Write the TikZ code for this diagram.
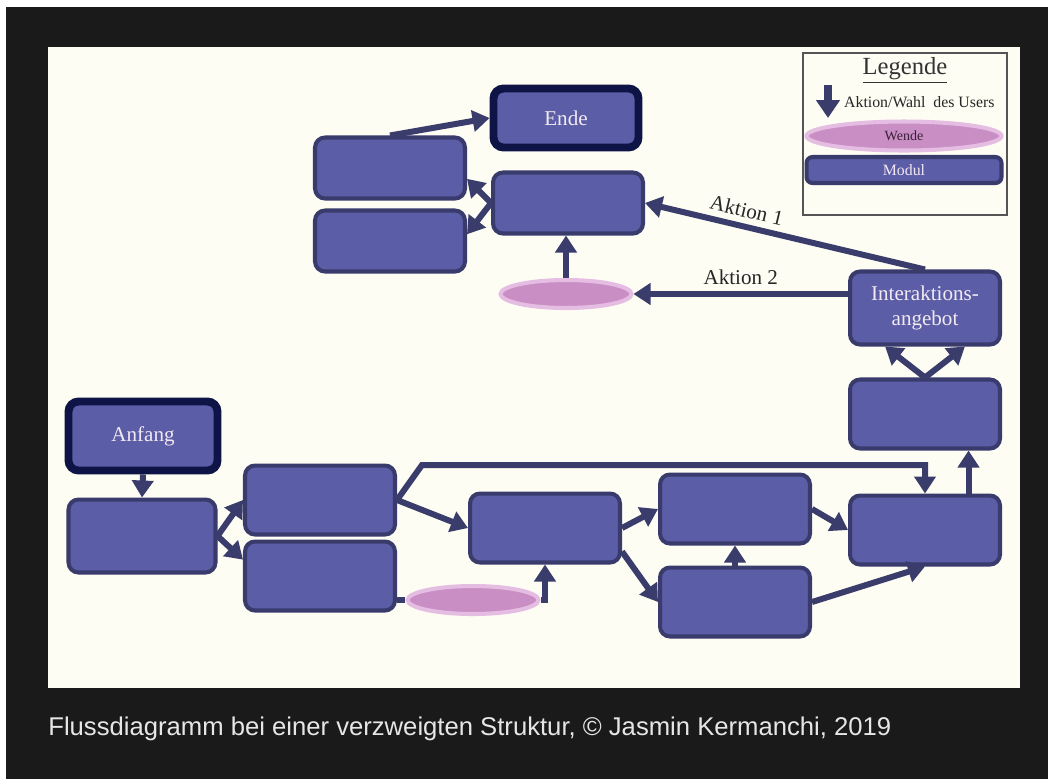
\documentclass[tikz,border=0pt]{standalone}
\usepackage{fontspec}
\setmainfont{Liberation Serif}
\newfontfamily\capfont{Liberation Sans}
\usetikzlibrary{arrows.meta,shapes.geometric}
\definecolor{modfill}{HTML}{5B5EA6}
\definecolor{modline}{HTML}{383B6C}
\definecolor{arrcol}{HTML}{3A3C6B}
\definecolor{navy}{HTML}{0E1446}
\definecolor{wendefill}{HTML}{C98FC4}
\definecolor{wendehalo}{HTML}{E6BDE2}
\definecolor{wendetext}{HTML}{3A1F3A}
\definecolor{paper}{HTML}{FDFDF3}
\definecolor{frame}{HTML}{1A1A1A}
\definecolor{modtext}{HTML}{F3E9F2}
\definecolor{captext}{HTML}{E6E6E6}
\definecolor{legline}{HTML}{555555}
\begin{document}
\begin{tikzpicture}[x=0.02cm,y=-0.02cm,
  modul/.style={draw=modline,line width=2.3pt,fill=modfill,rounded corners=0.2cm,
    minimum width=3cm,minimum height=1.38cm,text=modtext,align=center,inner sep=2pt,
    font=\fontsize{12}{14}\selectfont},
  endmodul/.style={modul,draw=navy,line width=4.5pt},
  wende/.style={ellipse,draw=wendehalo,line width=2.3pt,fill=wendefill,
    minimum width=2.62cm,minimum height=0.56cm,inner sep=0pt},
  arr/.style={draw=arrcol,line width=0.12cm,-{Triangle[width=0.42cm,length=0.34cm]}},
  verbindung/.style={draw=arrcol,line width=0.12cm},
  aktion/.style={text=black!85,font=\fontsize{12}{14}\selectfont}]
  \useasboundingbox (0,0) rectangle (1048,779);
  \fill[white] (0,0) rectangle (1048,779);
  \fill[frame] (6,7) rectangle (1048,779);
  \fill[paper] (48,47) rectangle (1020,688);

  % oben
  \node[endmodul,minimum width=2.9cm,minimum height=1.18cm] (ende) at (566,118) {Ende};
  \node[modul,minimum height=1.22cm] (oben1) at (390,168) {};
  \node[modul,minimum height=1.22cm] (oben2) at (390,241) {};
  \node[modul,minimum height=1.22cm] (mitte) at (568,203) {};
  \node[wende] (wende1) at (566,294) {};
  \node[modul,minimum height=1.46cm] (angebot) at (925,308) {Interaktions-\\angebot};
  \node[modul] (vorAngebot) at (925,414) {};

  % unten
  \node[endmodul,minimum width=2.98cm] (anfang) at (143,436) {Anfang};
  \node[modul,minimum width=2.94cm,minimum height=1.46cm] (start) at (142,536) {};
  \node[modul] (zweig1) at (320,500) {};
  \node[modul] (zweig2) at (320,576) {};
  \node[wende] (wende2) at (473,600) {};
  \node[modul] (mod1) at (545,528) {};
  \node[modul] (mod2) at (735,509) {};
  \node[modul] (mod3) at (735,602) {};
  \node[modul] (mod4) at (925,530) {};

  \draw[arr] (oben1.north) -- (ende.west);
  \draw[arr] (mitte.west) -- (oben1.-8);
  \draw[arr] (mitte.west) -- (oben2.5);
  \draw[arr] (wende1.north) -- (wende1.north |- mitte.south);
  \draw[arr] (angebot.north) -- node[aktion,sloped,above,pos=0.65] {Aktion 1} (mitte.east);
  \draw[arr] (wende1.east -| angebot.west) -- node[aktion,above] {Aktion 2} (wende1.east);
  \draw[arr] (vorAngebot.north) -- (angebot.-136);
  \draw[arr] (vorAngebot.north) -- (angebot.-44);
  \draw[arr] (mod4.40) -- (mod4.40 |- vorAngebot.south);

  \draw[arr] (anfang.south) -- (start.north);
  \draw[arr] (start.east) -- (zweig1.west);
  \draw[arr] (start.east) -- (zweig2.168);
  \draw[arr] (zweig1.east) -- (mod1.west);
  \draw[arr] (zweig1.east) -- ++(25,-35) -| (mod4.north);
  \draw[verbindung] (wende2.west -| zweig2.east) -- (wende2.west);
  \draw[arr] (wende2.east) -| (mod1.south);
  \draw[arr] (mod1.east) -- (mod2.west);
  \draw[arr] (mod1.-17) -- (mod3.west);
  \draw[arr] (mod3.north) -- (mod2.south);
  \draw[arr] (mod2.east) -- (mod4.west);
  \draw[arr] (mod3.east) -- (mod4.south);

  % Legende
  \draw[legline,line width=1pt] (803,53) rectangle (1007,215);
  \node[text=black!80,font=\fontsize{14}{16}\selectfont] (legTitel) at (905,70) {\underline{Legende}};
  \coordinate (legPfeil) at (828,85);
  \draw[draw=arrcol,line width=0.16cm,-{Triangle[width=0.46cm,length=0.36cm]}] (legPfeil) -- ++(0,33);
  \node[anchor=west,text=black!85,font=\fontsize{9}{10}\selectfont] (legAktion) at (838,102) {Aktion/Wahl\ \ des Users};
  \node[wende,minimum width=3.9cm,minimum height=0.58cm,text=wendetext,font=\fontsize{8}{9}\selectfont] (legWende) at (904,136) {Wende};
  \node[modul,minimum width=3.9cm,minimum height=0.52cm,rounded corners=0.12cm,font=\fontsize{9}{10}\selectfont] (legModul) at (904,170) {Modul};

  \node[anchor=base west,inner xsep=0pt,text=captext,font=\capfont\fontsize{14.6}{17}\selectfont] (titel) at (48,735)
    {Flussdiagramm bei einer verzweigten Struktur, © Jasmin Kermanchi, 2019};
\end{tikzpicture}
\end{document}
